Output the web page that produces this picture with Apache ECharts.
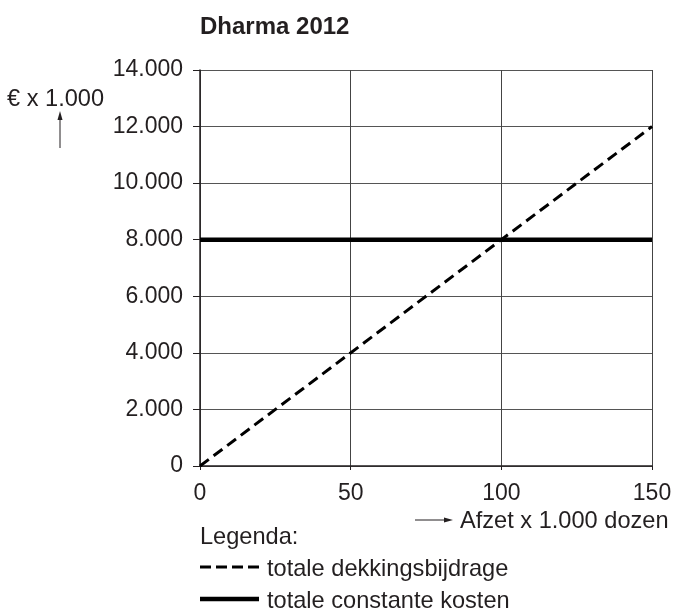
<!DOCTYPE html>
<html>
<head>
<meta charset="utf-8">
<script src="https://cdn.jsdelivr.net/npm/echarts@6/dist/echarts.min.js"></script>
<style>html,body{margin:0;padding:0;background:#fff}#c{width:675px;height:608px}</style>
</head>
<body>
<div id="c"></div>
<script>
var title = 'Dharma 2012';
var afzet = [0, 150];
var dekkingsbijdrage = [0, 12000];
var constanteKosten = [8000, 8000];
var seriesNames = ['totale dekkingsbijdrage', 'totale constante kosten'];
var yName = '€ x 1.000';
var xName = 'Afzet x 1.000 dozen';
var legendTitle = 'Legenda:';

var FONT = '"Liberation Sans", Arial, sans-serif';
var INK = '#231f20';
var TXT = '23.6px ' + FONT;
var chart = echarts.init(document.getElementById('c'));
function fmt(v){ return String(v).replace(/\B(?=(\d{3})+(?!\d))/g, '.'); }
function pairs(xs, ys){ return xs.map(function(x,i){ return [x, ys[i]]; }); }

chart.setOption({
  animation: false,
  textStyle: {fontFamily: FONT},
  grid: {left: 200, right: 23, top: 70, bottom: 142, containLabel: false},
  xAxis: {
    type: 'value', min: 0, max: 150, interval: 50,
    axisLine: {show: true, lineStyle: {color: INK, width: 1.5}},
    axisTick: {show: true, inside: false, length: 4, lineStyle: {color: INK}},
    axisLabel: {fontSize: 23, color: INK, margin: 16, fontFamily: FONT},
    splitLine: {show: true, lineStyle: {color: '#444', width: 1}}
  },
  yAxis: {
    type: 'value', min: 0, max: 14000, interval: 2000,
    axisLine: {show: true, lineStyle: {color: INK, width: 1.5}},
    axisTick: {show: true, inside: false, length: 7, lineStyle: {color: INK}},
    axisLabel: {fontSize: 23, color: INK, margin: 17, fontFamily: FONT, formatter: fmt},
    splitLine: {show: true, lineStyle: {color: '#555', width: 1}}
  },
  series: [
    {name: seriesNames[0], type: 'line', data: pairs(afzet, dekkingsbijdrage), symbol: 'none',
     lineStyle: {color: '#000', width: 3, type: [11, 6]}, itemStyle: {color: '#000'}},
    {name: seriesNames[1], type: 'line', data: pairs(afzet, constanteKosten), symbol: 'none',
     lineStyle: {color: '#000', width: 4.5, type: 'solid'}, itemStyle: {color: '#000'}}
  ],
  graphic: [
    {type: 'text', x: 200, y: 27, style: {text: title, font: 'bold 24px ' + FONT, fill: INK, verticalAlign: 'middle'}},
    {type: 'text', x: 7, y: 99, style: {text: yName, font: TXT, fill: INK, verticalAlign: 'middle'}},
    {type: 'line', shape: {x1: 60, y1: 148, x2: 60, y2: 118}, style: {stroke: INK, lineWidth: 1}},
    {type: 'polygon', shape: {points: [[60, 111], [57.5, 120], [62.5, 120]]}, style: {fill: INK}},
    {type: 'line', shape: {x1: 415, y1: 520, x2: 445, y2: 520}, style: {stroke: INK, lineWidth: 1}},
    {type: 'polygon', shape: {points: [[453, 520], [444, 517.5], [444, 522.5]]}, style: {fill: INK}},
    {type: 'text', x: 460, y: 521, style: {text: xName, font: TXT, fill: INK, verticalAlign: 'middle'}},
    {type: 'text', x: 200, y: 537, style: {text: legendTitle, font: TXT, fill: INK, verticalAlign: 'middle'}},
    {type: 'line', shape: {x1: 200, y1: 567, x2: 259, y2: 567}, style: {stroke: '#000', lineWidth: 3, lineDash: [11, 5]}},
    {type: 'text', x: 267, y: 569, style: {text: seriesNames[0], font: TXT, fill: INK, verticalAlign: 'middle'}},
    {type: 'line', shape: {x1: 200, y1: 599, x2: 259, y2: 599}, style: {stroke: '#000', lineWidth: 4.5}},
    {type: 'text', x: 267, y: 601, style: {text: seriesNames[1], font: TXT, fill: INK, verticalAlign: 'middle'}}
  ]
});
</script>
</body>
</html>
